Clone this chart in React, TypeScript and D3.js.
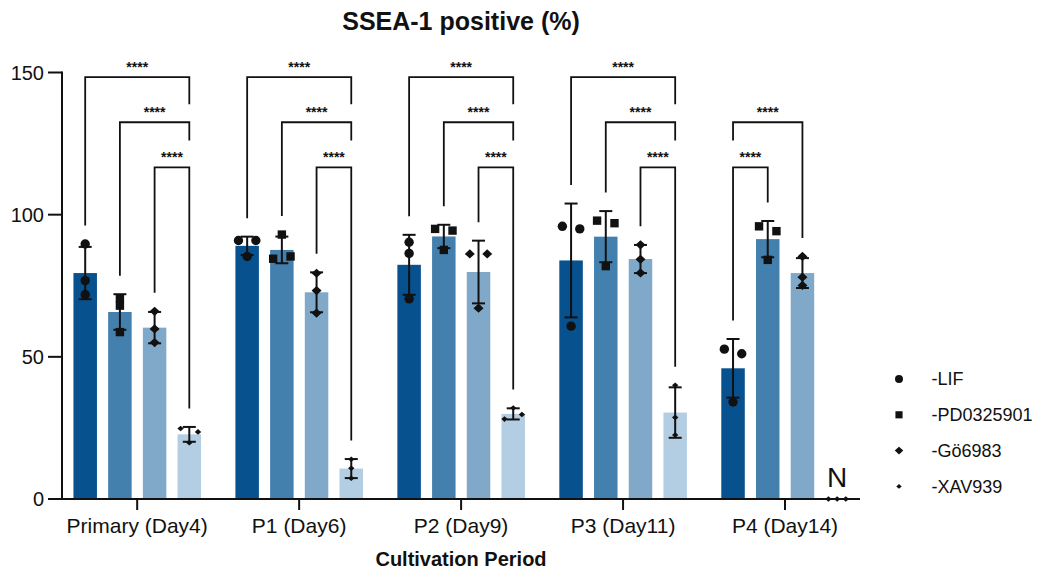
import React from "react";
import * as d3 from "d3";

const categories = ["Primary (Day4)", "P1 (Day6)", "P2 (Day9)", "P3 (Day11)", "P4 (Day14)"];
const seriesNames = ["-LIF", "-PD0325901", "-Gö6983", "-XAV939"];
const seriesColors = ["#08518f", "#4480ad", "#80a9c9", "#b3cde2"];

// individual replicate values (%), one triple per cultivation period
const lifPoints = [[89.7, 76.8, 71.9], [90.9, 90.9, 85.3], [90.3, 86.4, 70.4], [95.9, 95.0, 60.8], [52.7, 51.1, 34.1]];
const pdPoints = [[70.6, 68.0, 58.7], [93.0, 84.5, 85.3], [95.0, 94.4, 87.6], [97.9, 97.0, 81.9], [95.9, 94.2, 84.1]];
const goPoints = [[66.0, 59.8, 55.0], [79.4, 73.3, 65.4], [86.2, 86.2, 67.1], [89.4, 84.3, 79.5], [85.3, 78.0, 75.1]];
const xavPoints = [[24.8, 23.6, 19.8], [14.0, 10.8, 7.3], [32.0, 28.1, 29.7], [40.0, 28.7, 22.5], [0, 0, 0]];

const yTicks = [0, 50, 100, 150];

// significance comparisons: group index, bar a, bar b, stacking level (0 = top)
const compGroup = [0, 0, 0, 1, 1, 1, 2, 2, 2, 3, 3, 3, 4, 4];
const compA = [0, 1, 2, 0, 1, 2, 0, 1, 2, 0, 1, 2, 0, 0];
const compB = [3, 3, 3, 3, 3, 3, 3, 3, 3, 3, 3, 3, 2, 1];
const compLevel = [0, 1, 2, 0, 1, 2, 0, 1, 2, 0, 1, 2, 1, 2];
const starLabel = "****";
const bracketLevelValues = [148.4, 132.5, 116.6];

const notDetectedLabel = "N";
const titleText = "SSEA-1 positive (%)";
const xTitleText = "Cultivation Period";

const FONT = "Arial, 'Liberation Sans', Helvetica, sans-serif";
const INK = "#111";

const allPoints = [lifPoints, pdPoints, goPoints, xavPoints];

function markerPath(kind: number, cx: number, cy: number, scale = 1): string {
  if (kind === 0) {
    const r = 4.7 * scale;
    return `M${cx - r},${cy}a${r},${r} 0 1,0 ${2 * r},0a${r},${r} 0 1,0 ${-2 * r},0Z`;
  }
  if (kind === 1) {
    const h = 4.2 * scale;
    return `M${cx - h},${cy - h}h${2 * h}v${2 * h}h${-2 * h}Z`;
  }
  const w = (kind === 2 ? 5 : 3.2) * scale;
  const hh = (kind === 2 ? 4.6 : 2.8) * scale;
  return `M${cx},${cy - hh}L${cx + w},${cy}L${cx},${cy + hh}L${cx - w},${cy}Z`;
}

export default function App() {
  const width = 1039;
  const height = 573;

  const x0 = d3.scaleBand<string>().domain(categories).range([56.2, 866]).paddingInner(0).paddingOuter(0);
  const x1 = d3.scaleBand<string>().domain(seriesNames).range([17.25, 144.85]).paddingInner(0.323).paddingOuter(0);
  const y = d3.scaleLinear().domain([0, 150]).range([499, 72.5]);

  const axisX = 62;
  const axisY = y(0);

  const barCenter = (g: number, s: number) =>
    (x0(categories[g]) as number) + (x1(seriesNames[s]) as number) + x1.bandwidth() / 2;

  // stats
  const stats = allPoints.map((ser) =>
    ser.map((pts) => {
      const mean = d3.mean(pts) as number;
      const sd = (d3.deviation(pts) as number) || 0;
      return { mean, sd, max: d3.max(pts) as number };
    })
  );

  // dodge positions of replicate points
  const dodgeOffset = 8.7;
  const dodgeThresh = 5.2;
  const pointOffsets = allPoints.map((ser) =>
    ser.map((pts) => {
      const offs = pts.map(() => 0);
      const order = d3.range(pts.length).sort((a, b) => pts[a] - pts[b]);
      const clusters: number[][] = [];
      let cur: number[] = [order[0]];
      for (let k = 1; k < order.length; k++) {
        const dpx = Math.abs(y(pts[order[k]]) - y(pts[order[k - 1]]));
        if (dpx < dodgeThresh) cur.push(order[k]);
        else {
          clusters.push(cur);
          cur = [order[k]];
        }
      }
      clusters.push(cur);
      clusters.forEach((c) => {
        if (c.length < 2) return;
        const sorted = [...c].sort((a, b) => a - b);
        const n = sorted.length;
        sorted.forEach((idx, j) => {
          offs[idx] = n === 2 ? (j === 0 ? -dodgeOffset : dodgeOffset) : (j - (n - 1) / 2) * dodgeOffset;
        });
      });
      return offs;
    })
  );

  const dataTopPx = (g: number, s: number) => {
    const st = stats[s][g];
    return Math.min(y(st.mean + st.sd), y(st.max));
  };

  const blockedGap = [18, 27, 27];

  const brackets = compGroup.map((g, i) => {
    const a = compA[i];
    const b = compB[i];
    const lvl = compLevel[i];
    const by = y(bracketLevelValues[lvl]);
    const legEnd = (bar: number) => {
      const lower = compGroup
        .map((gg, j) => ({ gg, j }))
        .filter(({ gg, j }) => gg === g && compLevel[j] > lvl && (compA[j] === bar || compB[j] === bar))
        .map(({ j }) => compLevel[j]);
      if (lower.length) {
        const l2 = d3.min(lower) as number;
        return y(bracketLevelValues[l2]) - blockedGap[lvl];
      }
      return dataTopPx(g, bar) - 18.5;
    };
    const xa = barCenter(g, a);
    const xb = barCenter(g, b);
    return { xa, xb, by, ea: legEnd(a), eb: legEnd(b) };
  });

  const legendY0 = 379;
  const legendStep = 35.8;

  return (
    <svg width={width} height={height} style={{ display: "block", position: "absolute", left: 0, top: 0 }}>
      <rect x={0} y={0} width={width} height={height} fill="#fff" />
      <text x={461} y={30} textAnchor="middle" fontFamily={FONT} fontWeight="bold" fontSize={25} fill={INK}>
        {titleText}
      </text>

      {/* bars */}
      {seriesNames.map((s, si) =>
        categories.map((c, gi) => {
          const st = stats[si][gi];
          if (st.mean <= 0) return null;
          const bx = (x0(c) as number) + (x1(s) as number);
          return (
            <rect
              key={`b-${si}-${gi}`}
              x={bx}
              y={y(st.mean)}
              width={x1.bandwidth()}
              height={axisY - y(st.mean)}
              fill={seriesColors[si]}
            />
          );
        })
      )}

      {/* error bars */}
      {seriesNames.map((s, si) =>
        categories.map((c, gi) => {
          const st = stats[si][gi];
          if (st.sd <= 0) return null;
          const cx = barCenter(gi, si);
          const yt = y(st.mean + st.sd);
          const yb = y(st.mean - st.sd);
          return (
            <g key={`e-${si}-${gi}`} stroke={INK} strokeWidth={2} fill="none">
              <line x1={cx} x2={cx} y1={yt} y2={yb} />
              <line x1={cx - 6.5} x2={cx + 6.5} y1={yt} y2={yt} />
              <line x1={cx - 6.5} x2={cx + 6.5} y1={yb} y2={yb} />
            </g>
          );
        })
      )}

      {/* replicate points */}
      {allPoints.map((ser, si) =>
        ser.map((pts, gi) =>
          pts.map((v, pi) => (
            <path
              key={`p-${si}-${gi}-${pi}`}
              d={markerPath(si, barCenter(gi, si) + pointOffsets[si][gi][pi], y(v))}
              fill={INK}
            />
          ))
        )
      )}

      {/* not detected label */}
      <text
        x={barCenter(4, 3)}
        y={487}
        textAnchor="middle"
        fontFamily={FONT}
        fontSize={28}
        fill={INK}
      >
        {notDetectedLabel}
      </text>

      {/* y axis */}
      <line x1={axisX} x2={axisX} y1={y(150) - 1} y2={axisY + 1} stroke={INK} strokeWidth={2} />
      {yTicks.map((t) => (
        <g key={`yt-${t}`}>
          <line x1={axisX - 14} x2={axisX} y1={y(t)} y2={y(t)} stroke={INK} strokeWidth={2} />
          <text
            x={axisX - 18}
            y={y(t)}
            dy="0.36em"
            textAnchor="end"
            fontFamily={FONT}
            fontSize={20}
            fill={INK}
          >
            {t}
          </text>
        </g>
      ))}

      {/* x axis */}
      <line x1={axisX - 1} x2={860} y1={axisY} y2={axisY} stroke={INK} strokeWidth={2} />
      {categories.map((c) => {
        const cx = (x0(c) as number) + x0.bandwidth() / 2;
        return (
          <g key={`xt-${c}`}>
            <line x1={cx} x2={cx} y1={axisY} y2={axisY + 11} stroke={INK} strokeWidth={2} />
            <text x={cx} y={533} textAnchor="middle" fontFamily={FONT} fontSize={21} fill={INK}>
              {c}
            </text>
          </g>
        );
      })}
      <text x={461} y={566} textAnchor="middle" fontFamily={FONT} fontWeight="bold" fontSize={20} fill={INK}>
        {xTitleText}
      </text>

      {/* significance brackets */}
      {brackets.map((b, i) => (
        <g key={`br-${i}`}>
          <path
            d={`M${b.xa},${b.ea}V${b.by}H${b.xb}V${b.eb}`}
            fill="none"
            stroke={INK}
            strokeWidth={1.8}
          />
          <text
            x={(b.xa + b.xb) / 2}
            y={b.by - 5}
            textAnchor="middle"
            fontFamily={FONT}
            fontWeight="bold"
            fontSize={14}
            fill={INK}
          >
            {starLabel}
          </text>
        </g>
      ))}

      {/* legend */}
      {seriesNames.map((s, si) => {
        const ly = legendY0 + si * legendStep;
        return (
          <g key={`lg-${s}`}>
            <path d={markerPath(si, 899, ly, 0.85)} fill={INK} />
            <text x={931.5} y={ly} dy="0.36em" fontFamily={FONT} fontSize={18} fill={INK}>
              {s}
            </text>
          </g>
        );
      })}
    </svg>
  );
}
